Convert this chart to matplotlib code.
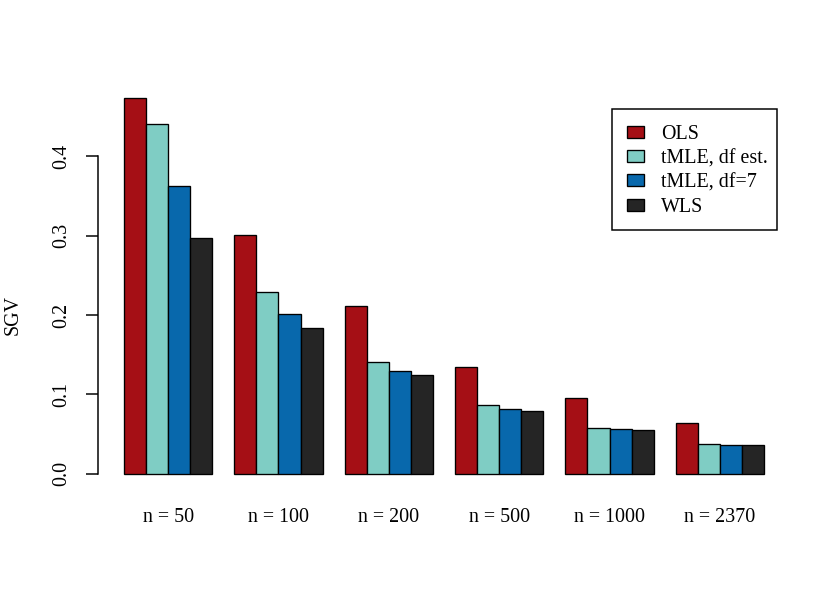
import numpy as np
import matplotlib.pyplot as plt
from matplotlib.patches import Rectangle

plt.rcParams['font.family'] = ['Liberation Serif', 'DejaVu Serif']

groups = ['n = 50', 'n = 100', 'n = 200', 'n = 500', 'n = 1000', 'n = 2370']
methods = ['OLS', 'tMLE, df est.', 'tMLE, df=7', 'WLS']
ols = [0.473, 0.301, 0.211, 0.134, 0.096, 0.064]
tmle_est = [0.441, 0.229, 0.141, 0.087, 0.058, 0.037]
tmle_7 = [0.363, 0.201, 0.130, 0.082, 0.056, 0.0365]
wls = [0.297, 0.183, 0.124, 0.079, 0.055, 0.0358]
colors = ['#A50F15', '#7FCDC4', '#0868AC', '#252525']

series = [ols, tmle_est, tmle_7, wls]

W, H = 840, 600
fig = plt.figure(figsize=(7, 5), dpi=120)
ax = fig.add_axes([98.4 / W, 1 - 488.7 / H, (789.6 - 98.4) / W, (488.7 - 83.4) / H])

# R barplot layout: bar width 1, one unit gap between groups
n_grp = len(groups)
starts = 1 + 5 * np.arange(n_grp)
handles = []
for j, (vals, col) in enumerate(zip(series, colors)):
    b = ax.bar(starts + j, vals, width=1.0, align='edge', color=col,
               edgecolor='black', linewidth=0.8)
    handles.append(b)

ymax = max(ols)
ax.set_xlim(1 - 0.04 * 29, 30 + 0.04 * 29)
ax.set_ylim(-0.04 * ymax, ymax * 1.04)

for s in ['top', 'right', 'bottom']:
    ax.spines[s].set_visible(False)
ax.spines['left'].set_bounds(0, 0.4)
ax.spines['left'].set_linewidth(0.9)

ax.set_yticks([0.0, 0.1, 0.2, 0.3, 0.4])
ax.set_yticklabels(['0.0', '0.1', '0.2', '0.3', '0.4'], rotation=90, va='center')
ax.tick_params(axis='y', length=7.2, width=0.9, pad=9, labelsize=12)

ax.set_xticks(starts + 2)
ax.set_xticklabels(groups)
ax.tick_params(axis='x', length=0, pad=11.5, labelsize=12)

fig.text(13 / W, 1 - 315 / H, 'SGV', rotation=90, fontsize=12,
         ha='center', va='center')

# legend box drawn by hand, entries placed inside without a frame
fig.patches.append(Rectangle((611.7 / W, 1 - 230 / H), 165 / W, 120.7 / H,
                             transform=fig.transFigure, fill=False,
                             edgecolor='black', linewidth=0.9))
leg = ax.legend(handles, methods, loc='center left', fontsize=12,
                bbox_to_anchor=(627 / W, 1 - 170.8 / H),
                bbox_transform=fig.transFigure, frameon=False,
                handlelength=0.85, handleheight=0.55, borderpad=0,
                labelspacing=0.27, handletextpad=0.85, borderaxespad=0)

fig.savefig('out.png', dpi=120)
